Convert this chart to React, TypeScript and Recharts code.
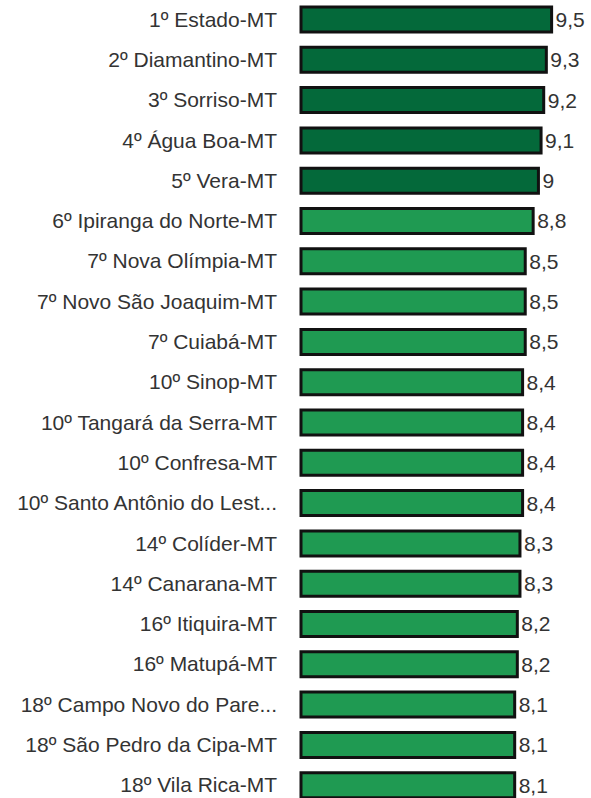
import { BarChart, Bar, XAxis, YAxis, Cell, LabelList } from "recharts"

const cities = [
  "1º Estado-MT",
  "2º Diamantino-MT",
  "3º Sorriso-MT",
  "4º Água Boa-MT",
  "5º Vera-MT",
  "6º Ipiranga do Norte-MT",
  "7º Nova Olímpia-MT",
  "7º Novo São Joaquim-MT",
  "7º Cuiabá-MT",
  "10º Sinop-MT",
  "10º Tangará da Serra-MT",
  "10º Confresa-MT",
  "10º Santo Antônio do Lest...",
  "14º Colíder-MT",
  "14º Canarana-MT",
  "16º Itiquira-MT",
  "16º Matupá-MT",
  "18º Campo Novo do Pare...",
  "18º São Pedro da Cipa-MT",
  "18º Vila Rica-MT",
]

const scores = [9.5, 9.3, 9.2, 9.1, 9, 8.8, 8.5, 8.5, 8.5, 8.4, 8.4, 8.4, 8.4, 8.3, 8.3, 8.2, 8.2, 8.1, 8.1, 8.1]

const DARK = "#04693a"
const LIGHT = "#1f9a52"
const FONT = "'Liberation Sans', Arial, sans-serif"

const data = cities.map((name, i) => ({ name, value: scores[i] }))

// vírgula como separador decimal
const fmt = (v: any) => String(v).replace(".", ",")

export default function App() {
  return (
    <div style={{ position: "absolute", left: 0, top: -1, fontFamily: FONT }}>
      <BarChart
        width={591}
        height={806}
        data={data}
        layout="vertical"
        margin={{ top: 0, right: 13, bottom: 0, left: 0 }}
      >
        <XAxis type="number" domain={[0, 10.5]} hide />
        <YAxis
          type="category"
          dataKey="name"
          width={301}
          axisLine={false}
          tickLine={false}
          tickSize={0}
          tickMargin={24}
          interval={0}
          tick={{ fill: "#333333", fontSize: 21, fontFamily: FONT }}
        />
        <Bar dataKey="value" barSize={25} stroke="#111111" strokeWidth={3} isAnimationActive={false}>
          {data.map((d, i) => (
            <Cell key={d.name} fill={i < 5 ? DARK : LIGHT} />
          ))}
          <LabelList dataKey="value" position="right" offset={4} formatter={fmt} fill="#333333" fontSize={21} fontFamily={FONT} />
        </Bar>
      </BarChart>
    </div>
  )
}
